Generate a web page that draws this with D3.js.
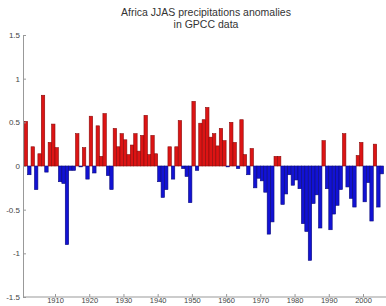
<!DOCTYPE html>
<html>
<head>
<meta charset="utf-8">
<script src="https://cdn.jsdelivr.net/npm/d3@7"></script>
<style>
  body { margin: 0; background: #fff; }
  text { font-family: "Liberation Sans", Arial, sans-serif; }
</style>
</head>
<body>
<div id="chart"></div>
<script>
// yearly anomalies, 1901..2005
const firstYear = 1901;
const anomalies = [
  0.51, -0.10, 0.22, -0.27, 0.14, 0.81, -0.07, 0.27, 0.48, 0.21,
  -0.18, -0.20, -0.90, -0.05, -0.05, 0.37, -0.01, 0.21, -0.15, 0.57,
  -0.08, 0.46, 0.11, 0.60, -0.11, -0.27, 0.43, 0.22, 0.37, 0.30,
  0.13, 0.24, 0.37, 0.17, 0.35, 0.58, 0.13, 0.35, 0.14, -0.18,
  -0.36, -0.27, 0.22, -0.15, 0.22, 0.52, -0.03, -0.12, -0.42, 0.74,
  -0.05, 0.49, 0.53, 0.67, 0.33, 0.37, 0.23, 0.43, 0.29, -0.01,
  0.50, 0.27, -0.03, 0.53, 0.13, -0.10, 0.20, -0.25, -0.14, -0.17,
  -0.30, -0.78, -0.64, 0.11, 0.11, -0.44, -0.32, -0.10, -0.22, -0.16,
  -0.26, -0.66, -0.75, -1.08, -0.43, -0.33, -0.71, 0.29, -0.26, -0.73,
  -0.55, -0.45, -0.27, 0.37, -0.24, -0.37, -0.47, 0.12, 0.27, -0.41,
  -0.19, -0.63, 0.25, -0.47, -0.09
];
const xTicks = [1910, 1920, 1930, 1940, 1950, 1960, 1970, 1980, 1990, 2000];
const yTicks = [-1.5, -1, -0.5, 0, 0.5, 1, 1.5];
const titleLines = ['Africa JJAS precipitations anomalies', 'in GPCC data'];

const width = 386;
const height = 306;
const left = 23;     // y axis position
const bottom = 297;  // x axis position

const svg = d3.select('#chart').append('svg')
  .attr('width', width)
  .attr('height', height);

const x = d3.scaleLinear().domain([1910, 2000]).range([55, 363]);
const y = d3.scaleLinear().domain([-1.5, 1.5]).range([bottom, 35]);

const data = anomalies.map((v, i) => ({year: firstYear + i, value: v}));

// bars
svg.append('g').selectAll('rect')
  .data(data)
  .join('rect')
  .attr('x', d => x(d.year))
  .attr('width', d => x(d.year + 1) - x(d.year))
  .attr('y', d => y(Math.max(0, d.value)))
  .attr('height', d => Math.abs(y(d.value) - y(0)))
  .attr('fill', d => d.value >= 0 ? '#dc1414' : '#1212d4')
  .attr('stroke', d => d.value >= 0 ? '#8a0a0a' : '#0a0a7a')
  .attr('stroke-width', 0.6);

// axes
const yAxis = svg.append('g')
  .attr('transform', 'translate(' + left + ',0)')
  .call(d3.axisLeft(y).tickValues(yTicks).tickFormat(d => String(d))
    .tickSizeInner(-3).tickSizeOuter(0).tickPadding(3));

const xAxis = svg.append('g')
  .attr('transform', 'translate(0,' + bottom + ')')
  .call(d3.axisBottom(x).tickValues(xTicks).tickFormat(d => String(d))
    .tickSizeInner(-3).tickSizeOuter(0).tickPadding(1));
xAxis.select('.domain').attr('d', 'M' + left + ',0H' + width);
xAxis.selectAll('.tick text').attr('dy', '0.6em');

[yAxis, xAxis].forEach(ax => {
  ax.select('.domain').attr('stroke', '#999');
  ax.selectAll('.tick line').attr('stroke', '#999');
  ax.selectAll('.tick text')
    .attr('fill', '#444')
    .style('font-size', '8px');
});
xAxis.selectAll('.tick text').style('font-size', '7.5px');

// title
svg.append('g').selectAll('text')
  .data(titleLines)
  .join('text')
  .attr('x', 206)
  .attr('y', (d, i) => 16 + i * 11.5)
  .attr('text-anchor', 'middle')
  .attr('fill', '#333')
  .style('font-size', '10.5px')
  .text(d => d);
</script>
</body>
</html>
